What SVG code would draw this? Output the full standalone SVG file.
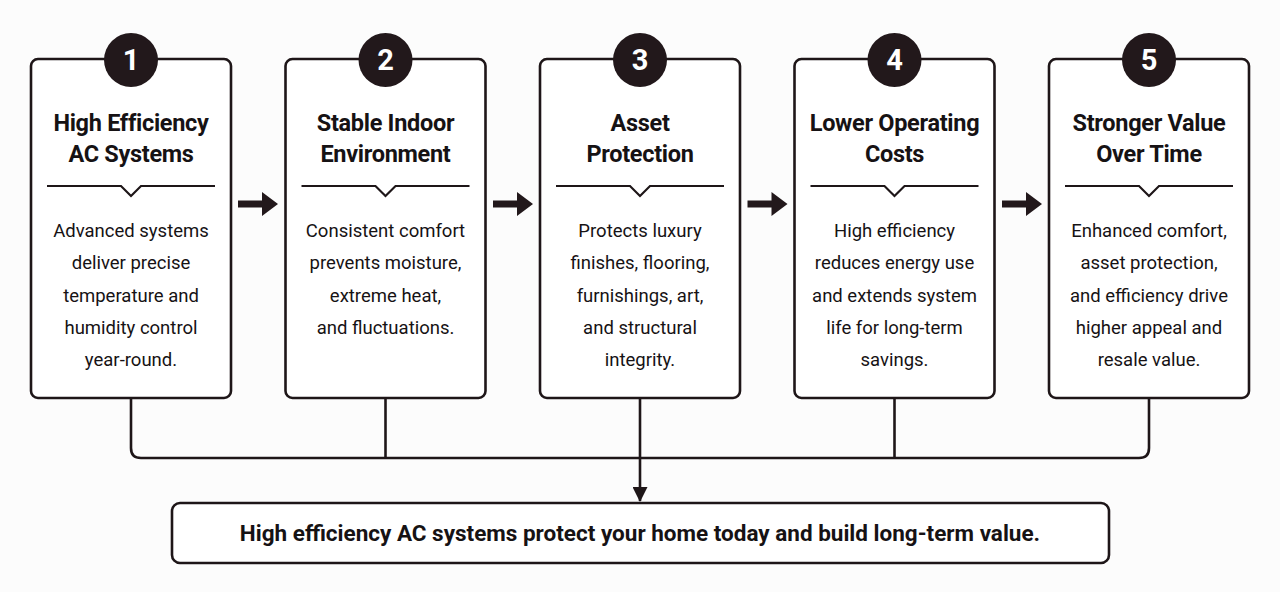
<svg xmlns="http://www.w3.org/2000/svg" width="1280" height="592" viewBox="0 0 1280 592">
<style>
.box{fill:#fff;stroke:#1e1618;stroke-width:2.6}
.badge{fill:#22181b}
.num{font-family:Roboto,"Liberation Sans",sans-serif;font-weight:700;font-size:29px;fill:#fff;text-anchor:middle}
.title{font-family:Roboto,"Liberation Sans",sans-serif;font-weight:700;font-size:23.5px;letter-spacing:-0.3px;fill:#161214;text-anchor:middle}
.body{font-family:Roboto,"Liberation Sans",sans-serif;font-weight:400;font-size:18.5px;fill:#161214;text-anchor:middle}
.div{fill:none;stroke:#1e1618;stroke-width:2.2}
.conn{fill:none;stroke:#1e1618;stroke-width:2.6}
.arrow{fill:#22181b}
.summary{font-family:Roboto,"Liberation Sans",sans-serif;font-weight:700;font-size:22.5px;fill:#161214;text-anchor:middle}
</style>
<defs>
<marker id="ah" viewBox="0 0 15 15" refX="14" refY="7.5" markerWidth="15" markerHeight="15" markerUnits="userSpaceOnUse" orient="auto">
<path d="M0,0 L15,7.5 L0,15 Z" fill="#1e1618"/>
</marker>
</defs>
<rect width="1280" height="592" fill="#fcfcfc"/>

<g id="connectors">
<path class="conn" d="M131,398 V448 Q131,458 141,458 H1139 Q1149,458 1149,448 V398"/>
<path class="conn" d="M385.5,398 V458"/>
<path class="conn" d="M894.5,398 V458"/>
<path class="conn" d="M640,398 V501" marker-end="url(#ah)"/>
<polygon class="arrow" points="238,200.5 262,200.5 262,192 278,204 262,216 262,207.5 238,207.5"/>
<polygon class="arrow" points="493,200.5 517,200.5 517,192 533,204 517,216 517,207.5 493,207.5"/>
<polygon class="arrow" points="747.5,200.5 771.5,200.5 771.5,192 787.5,204 771.5,216 771.5,207.5 747.5,207.5"/>
<polygon class="arrow" points="1002,200.5 1026,200.5 1026,192 1042,204 1026,216 1026,207.5 1002,207.5"/>
</g>

<g id="node1">
<rect class="box" x="31" y="59" width="200" height="339" rx="7"/>
<circle class="badge" cx="131" cy="60" r="27"/>
<text class="num" x="131" y="70">1</text>
<text class="title" x="131" y="131">High Efficiency</text>
<text class="title" x="131" y="162">AC Systems</text>
<path class="div" d="M47,186 H121 L131,196 L141,186 H215"/>
<text class="body" x="131" y="237">Advanced systems</text>
<text class="body" x="131" y="269">deliver precise</text>
<text class="body" x="131" y="302">temperature and</text>
<text class="body" x="131" y="334">humidity control</text>
<text class="body" x="131" y="366">year-round.</text>
</g>

<g id="node2">
<rect class="box" x="285.5" y="59" width="200" height="339" rx="7"/>
<circle class="badge" cx="385.5" cy="60" r="27"/>
<text class="num" x="385.5" y="70">2</text>
<text class="title" x="385.5" y="131">Stable Indoor</text>
<text class="title" x="385.5" y="162">Environment</text>
<path class="div" d="M301.5,186 H375.5 L385.5,196 L395.5,186 H469.5"/>
<text class="body" x="385.5" y="237">Consistent comfort</text>
<text class="body" x="385.5" y="269">prevents moisture,</text>
<text class="body" x="385.5" y="302">extreme heat,</text>
<text class="body" x="385.5" y="334">and fluctuations.</text>
</g>

<g id="node3">
<rect class="box" x="540" y="59" width="200" height="339" rx="7"/>
<circle class="badge" cx="640" cy="60" r="27"/>
<text class="num" x="640" y="70">3</text>
<text class="title" x="640" y="131">Asset</text>
<text class="title" x="640" y="162">Protection</text>
<path class="div" d="M556,186 H630 L640,196 L650,186 H724"/>
<text class="body" x="640" y="237">Protects luxury</text>
<text class="body" x="640" y="269">finishes, flooring,</text>
<text class="body" x="640" y="302">furnishings, art,</text>
<text class="body" x="640" y="334">and structural</text>
<text class="body" x="640" y="366">integrity.</text>
</g>

<g id="node4">
<rect class="box" x="794.5" y="59" width="200" height="339" rx="7"/>
<circle class="badge" cx="894.5" cy="60" r="27"/>
<text class="num" x="894.5" y="70">4</text>
<text class="title" x="894.5" y="131">Lower Operating</text>
<text class="title" x="894.5" y="162">Costs</text>
<path class="div" d="M810.5,186 H884.5 L894.5,196 L904.5,186 H978.5"/>
<text class="body" x="894.5" y="237">High efficiency</text>
<text class="body" x="894.5" y="269">reduces energy use</text>
<text class="body" x="894.5" y="302">and extends system</text>
<text class="body" x="894.5" y="334">life for long-term</text>
<text class="body" x="894.5" y="366">savings.</text>
</g>

<g id="node5">
<rect class="box" x="1049" y="59" width="200" height="339" rx="7"/>
<circle class="badge" cx="1149" cy="60" r="27"/>
<text class="num" x="1149" y="70">5</text>
<text class="title" x="1149" y="131">Stronger Value</text>
<text class="title" x="1149" y="162">Over Time</text>
<path class="div" d="M1065,186 H1139 L1149,196 L1159,186 H1233"/>
<text class="body" x="1149" y="237">Enhanced comfort,</text>
<text class="body" x="1149" y="269">asset protection,</text>
<text class="body" x="1149" y="302">and efficiency drive</text>
<text class="body" x="1149" y="334">higher appeal and</text>
<text class="body" x="1149" y="366">resale value.</text>
</g>

<g id="summary">
<rect class="box" x="172" y="503" width="937" height="60" rx="8"/>
<text class="summary" x="640" y="541">High efficiency AC systems protect your home today and build long-term value.</text>
</g>
</svg>
